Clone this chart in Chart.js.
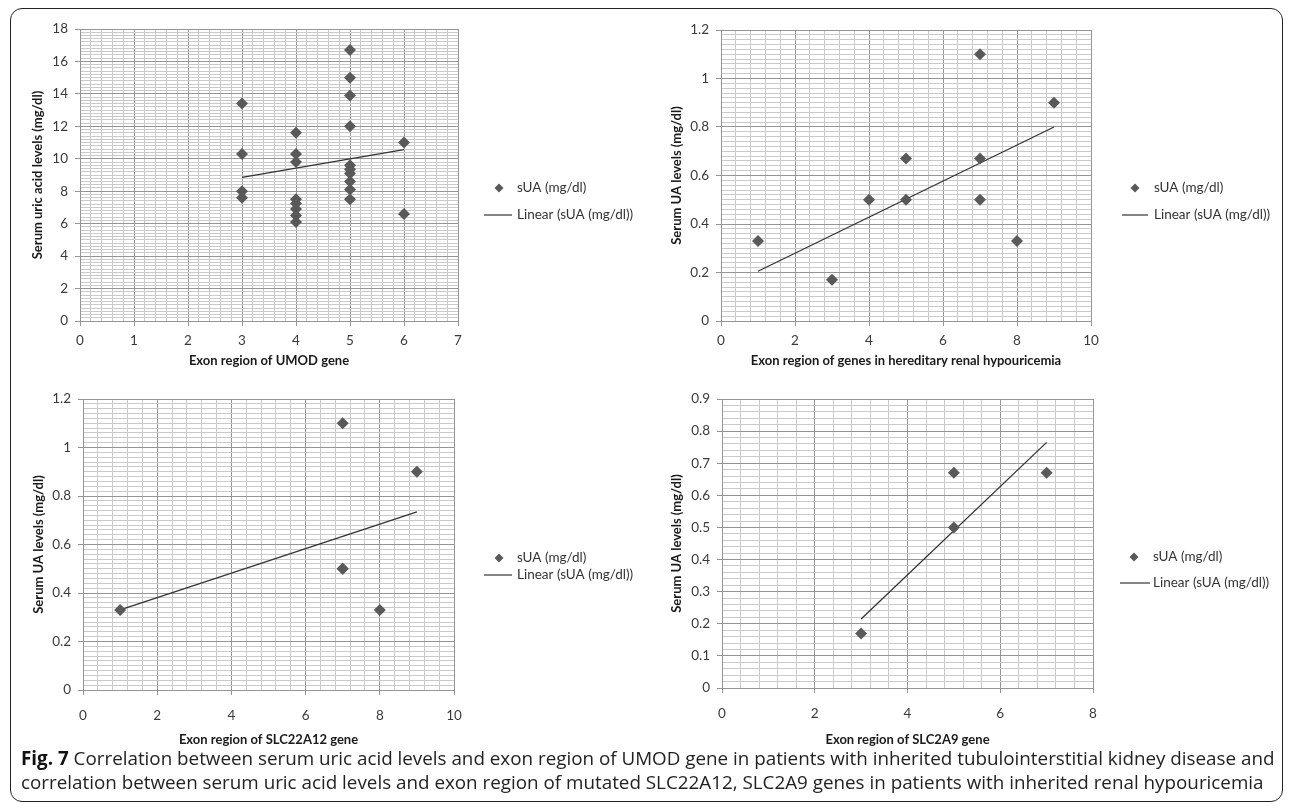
<!DOCTYPE html>
<html>
<head>
<meta charset="utf-8">
<script src="https://cdn.jsdelivr.net/npm/chart.js@4.4.1/dist/chart.umd.min.js"></script>
<style>
html,body{margin:0;padding:0;background:#fff;}
body{width:1290px;height:810px;position:relative;overflow:hidden;font-family:Lato,"Open Sans",sans-serif;}
#frame{position:absolute;left:10px;top:8px;width:1273px;height:794px;border:1.5px solid #222;border-radius:12px;box-sizing:border-box;}
canvas.layer{position:absolute;left:0;top:0;}
#caption{position:absolute;left:21px;top:746px;font-family:"Open Sans",sans-serif;color:#222;line-height:24px;white-space:nowrap;}
#caption b{color:#111;}
</style>
</head>
<body>
<div id="frame"></div>
<canvas class="layer" id="c1" width="1290" height="810"></canvas>
<canvas class="layer" id="c2" width="1290" height="810"></canvas>
<canvas class="layer" id="c3" width="1290" height="810"></canvas>
<canvas class="layer" id="c4" width="1290" height="810"></canvas>
<div id="caption"><span id="l1"><b>Fig. 7</b> Correlation between serum uric acid levels and exon region of UMOD gene in patients with inherited tubulointerstitial kidney disease and</span><br><span id="l2">correlation between serum uric acid levels and exon region of mutated SLC22A12, SLC2A9 genes in patients with inherited renal hypouricemia</span></div>
<script>
// ---------- DATA ----------
const seriesLabel = 'sUA (mg/dl)';
const trendLabel = 'Linear (sUA (mg/dl))';

// Chart 1: UMOD gene
const umodExon = [3,3,3,3, 4,4,4,4,4,4,4,4, 5,5,5,5,5,5,5,5,5,5, 6,6];
const umodSUA  = [13.4,10.3,8.0,7.6, 11.6,10.3,9.8,7.5,7.25,6.9,6.5,6.1, 16.7,15.0,13.9,12.0,9.6,9.35,9.1,8.6,8.1,7.5, 11.0,6.6];
const umodTrendX = [3,6];
const umodTrendY = [8.85,10.56];

// Chart 2: genes in hereditary renal hypouricemia
const hrhExon = [1,3,4,5,5,7,7,7,8,9];
const hrhSUA  = [0.33,0.17,0.5,0.67,0.5,1.1,0.67,0.5,0.33,0.9];
const hrhTrendX = [1,9];
const hrhTrendY = [0.205,0.80];

// Chart 3: SLC22A12 gene
const slc22Exon = [1,7,7,7,8,9];
const slc22SUA  = [0.33,1.1,0.5,0.5,0.33,0.9];
const slc22TrendX = [1,9];
const slc22TrendY = [0.33,0.735];

// Chart 4: SLC2A9 gene
const slc2Exon = [3,5,5,7];
const slc2SUA  = [0.17,0.67,0.5,0.67];
const slc2TrendX = [3,7];
const slc2TrendY = [0.215,0.765];

// Axis ranges / tick steps: [min, max, major, minor]
const ax1 = {x:[0,7,1,0.2], y:[0,18,2,0.2]};
const ax2 = {x:[0,10,2,0.4], y:[0,1.2,0.2,0.02]};
const ax3 = {x:[0,10,2,0.4], y:[0,1.2,0.2,0.02]};
const ax4 = {x:[0,8,2,0.4], y:[0,0.9,0.1,0.02]};

const titles1 = ['Exon region of UMOD gene','Serum uric acid levels (mg/dl)'];
const titles2 = ['Exon region of genes in hereditary renal hypouricemia','Serum UA levels (mg/dl)'];
const titles3 = ['Exon region of SLC22A12 gene','Serum UA levels (mg/dl)'];
const titles4 = ['Exon region of SLC2A9 gene','Serum UA levels (mg/dl)'];

// ---------- HELPERS ----------
function buildTicks(min,max,step){
  const out=[]; const n=Math.round((max-min)/step);
  for(let i=0;i<=n;i++) out.push({value:+(min+i*step).toFixed(6)});
  return out;
}
function isMajor(v,major){ const r=v/major; return Math.abs(r-Math.round(r))<1e-6; }
function fmt(v){ return String(Math.round(v*1000)/1000); }
function toPts(xs,ys){ return xs.map((x,i)=>({x:x,y:ys[i]})); }

const MAJ='#959595', MIN='#cacaca';
function axis(range,isX,title,size,tickPad){
  const [mn,mx,major,minor]=range;
  return {
    type:'linear', position:isX?'bottom':'left', min:mn, max:mx,
    afterBuildTicks:s=>{ s.ticks=buildTicks(mn,mx,minor); },
    afterFit:s=>{ if(isX) s.height=size; else s.width=size; },
    ticks:{autoSkip:false,maxRotation:0,minRotation:0,padding:tickPad,color:'#3a3a3a',
      font:{family:'Lato',size:13.5},
      callback:v=>isMajor(v,major)?fmt(v):''},
    grid:{
      color:c=>(!c.tick||isMajor(c.tick.value,major))?MAJ:MIN,
      tickColor:c=>(!c.tick||isMajor(c.tick.value,major))?MAJ:'rgba(0,0,0,0)',
      lineWidth:1, tickLength:5, drawTicks:true},
    border:{display:true,color:MAJ},
    title:{display:true,text:title,color:'#1a1a1a',padding:0,
      font:{family:'Lato',size:13,weight:'bold',lineHeight:1.2}}
  };
}

const sideLegend = {
  id:'sideLegend',
  afterDraw(chart,args,o){
    const ctx=chart.ctx, a=chart.chartArea, ds=chart.data.datasets;
    ctx.save();
    ctx.font='13.5px Lato'; ctx.textBaseline='middle'; ctx.textAlign='left';
    const mx=a.right+o.mx, r=4.5;
    ctx.beginPath();
    ctx.moveTo(mx,o.y1-r); ctx.lineTo(mx+r,o.y1); ctx.lineTo(mx,o.y1+r); ctx.lineTo(mx-r,o.y1); ctx.closePath();
    ctx.fillStyle='#595959'; ctx.fill();
    ctx.fillStyle='#333';
    ctx.fillText(ds[0].label,a.right+o.tx,o.y1);
    ctx.beginPath(); ctx.moveTo(a.right+o.l0,o.y2); ctx.lineTo(a.right+o.l1,o.y2);
    ctx.strokeStyle='#333'; ctx.lineWidth=1.2; ctx.stroke();
    ctx.fillText(ds[1].label,a.right+o.tx,o.y2);
    ctx.restore();
  }
};

function makeChart(id,pts,trend,ranges,titles,plot,W,H,xPad,yPad,leg){
  return new Chart(document.getElementById(id),{
    type:'scatter',
    data:{datasets:[
      {label:seriesLabel,data:pts,pointStyle:'rectRot',pointRadius:6,pointHoverRadius:6,
        backgroundColor:'#595959',borderColor:'#595959',borderWidth:0,order:1},
      {label:trendLabel,type:'line',data:trend,showLine:true,borderColor:'#333',borderWidth:1.3,
        pointRadius:0,fill:false,order:2}
    ]},
    options:{
      responsive:false,animation:false,
      layout:{padding:{left:plot[0]-W,top:plot[1],right:1290-plot[2],bottom:810-plot[3]-H}},
      plugins:{legend:{display:false},tooltip:{enabled:false},sideLegend:leg},
      scales:{
        x:axis(ranges.x,true,titles[0],H,xPad),
        y:axis(ranges.y,false,titles[1],W,yPad)
      }
    },
    plugins:[sideLegend]
  });
}

// plot rects [left, top, right, bottom]
makeChart('c1',toPts(umodExon,umodSUA),toPts(umodTrendX,umodTrendY),ax1,titles1,[80,29,458,321],50,48,7,7,
  {mx:41,tx:59,l0:26,l1:54,y1:188,y2:215});
makeChart('c2',toPts(hrhExon,hrhSUA),toPts(hrhTrendX,hrhTrendY),ax2,titles2,[721,30,1091,321],52,48,7,7,
  {mx:44,tx:63,l0:31,l1:57,y1:188,y2:215});
makeChart('c3',toPts(slc22Exon,slc22SUA),toPts(slc22TrendX,slc22TrendY),ax3,titles3,[83,399,454,690],52,58,13,7,
  {mx:45,tx:63,l0:30,l1:58,y1:558,y2:575});
makeChart('c4',toPts(slc2Exon,slc2SUA),toPts(slc2TrendX,slc2TrendY),ax4,titles4,[722,399,1093,688],53,60,13,7,
  {mx:41,tx:60,l0:27,l1:57,y1:557,y2:583});

// fit caption to frame width
(function(){
  const cap=document.getElementById('caption');
  let fs=16; cap.style.fontSize=fs+'px';
  const w=document.getElementById('l1').getBoundingClientRect().width;
  fs=fs*1254/w; cap.style.fontSize=fs.toFixed(2)+'px';
})();
</script>
</body>
</html>
